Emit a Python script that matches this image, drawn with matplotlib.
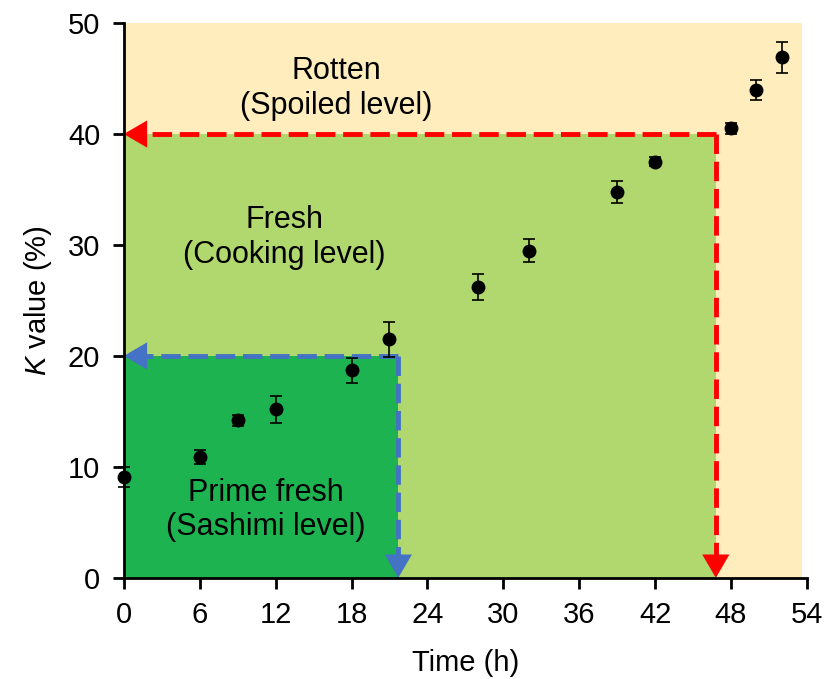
import matplotlib
matplotlib.use("Agg")
import matplotlib.pyplot as plt
from matplotlib.patches import Rectangle

plt.rcParams['font.family'] = ['Liberation Sans', 'DejaVu Sans']
plt.rcParams['mathtext.fontset'] = 'custom'
plt.rcParams['mathtext.it'] = 'Liberation Sans:italic'
plt.rcParams['mathtext.rm'] = 'Liberation Sans'

time_h = [0, 6, 9, 12, 18, 21, 28, 32, 39, 42, 48, 50, 52]
k_value = [9.1, 10.9, 14.2, 15.2, 18.7, 21.5, 26.2, 29.5, 34.8, 37.5, 40.5, 44.0, 46.9]
k_err = [0.9, 0.6, 0.5, 1.2, 1.1, 1.6, 1.2, 1.0, 1.0, 0.4, 0.5, 0.9, 1.4]

xticks = [0, 6, 12, 18, 24, 30, 36, 42, 48, 54]
yticks = [0, 10, 20, 30, 40, 50]

prime_k, prime_t = 20, 21.7
fresh_k, fresh_t = 40, 46.8
x_max, y_max = 54, 50
bg_right = 53.6

zones = [
    ("Rotten\n(Spoiled level)", 16.8, 44.1),
    ("Fresh\n(Cooking level)", 12.7, 30.7),
    ("Prime fresh\n(Sashimi level)", 11.2, 6.1),
]

FS = 21
ZFS = 22

fig = plt.figure(figsize=(8.31, 6.79), dpi=100)
ax = fig.add_axes([0.149, 0.149, 0.822, 0.817])

ax.add_patch(Rectangle((0, 0), bg_right, y_max, color='#FFEDBE', zorder=0, lw=0))
ax.add_patch(Rectangle((0, 0), fresh_t, fresh_k, color='#B1D86F', zorder=0.1, lw=0))
ax.add_patch(Rectangle((0, 0), prime_t, prime_k, color='#1DB350', zorder=0.2, lw=0))

def dashed_corner(t, k, color):
    ax.plot([t, t], [k, 1.2], color=color, lw=3.5, ls=(0, (4.0, 1.6)), zorder=2, solid_capstyle='butt')
    ax.plot([t, 1.0], [k, k], color=color, lw=3.5, ls=(0, (4.0, 1.6)), zorder=2, solid_capstyle='butt')
    ap = dict(arrowstyle='-|>,head_length=0.6,head_width=0.35', color=color, lw=0,
              shrinkA=0, shrinkB=0, mutation_scale=28)
    ax.annotate('', xy=(t, 0), xytext=(t, 1.5), arrowprops=ap, zorder=3)
    ax.annotate('', xy=(0, k), xytext=(1.3, k), arrowprops=ap, zorder=3)

dashed_corner(fresh_t, fresh_k, '#FF0000')
dashed_corner(prime_t, prime_k, '#4472C4')

ax.errorbar(time_h, k_value, yerr=k_err, fmt='o', color='black', ms=9,
            ecolor='black', elinewidth=1.2, capsize=4.5, capthick=1.2, zorder=5, clip_on=False)

for label, x, y in zones:
    ax.text(x, y, label, ha='center', va='center', fontsize=ZFS, linespacing=1.2, zorder=4)

ax.set_xlim(0, x_max)
ax.set_ylim(0, y_max)
ax.set_xticks(xticks)
ax.set_yticks(yticks)
ax.tick_params(labelsize=FS, width=2, length=8, direction='out', pad=9)
for s in ['top', 'right']:
    ax.spines[s].set_visible(False)
for s in ['left', 'bottom']:
    ax.spines[s].set_linewidth(2)
    ax.spines[s].set_zorder(6)
ax.set_xlabel('Time (h)', fontsize=FS, labelpad=14)
ax.set_ylabel(r'$K$ value (%)', fontsize=FS, labelpad=10)

fig.savefig('out.png', dpi=100)
